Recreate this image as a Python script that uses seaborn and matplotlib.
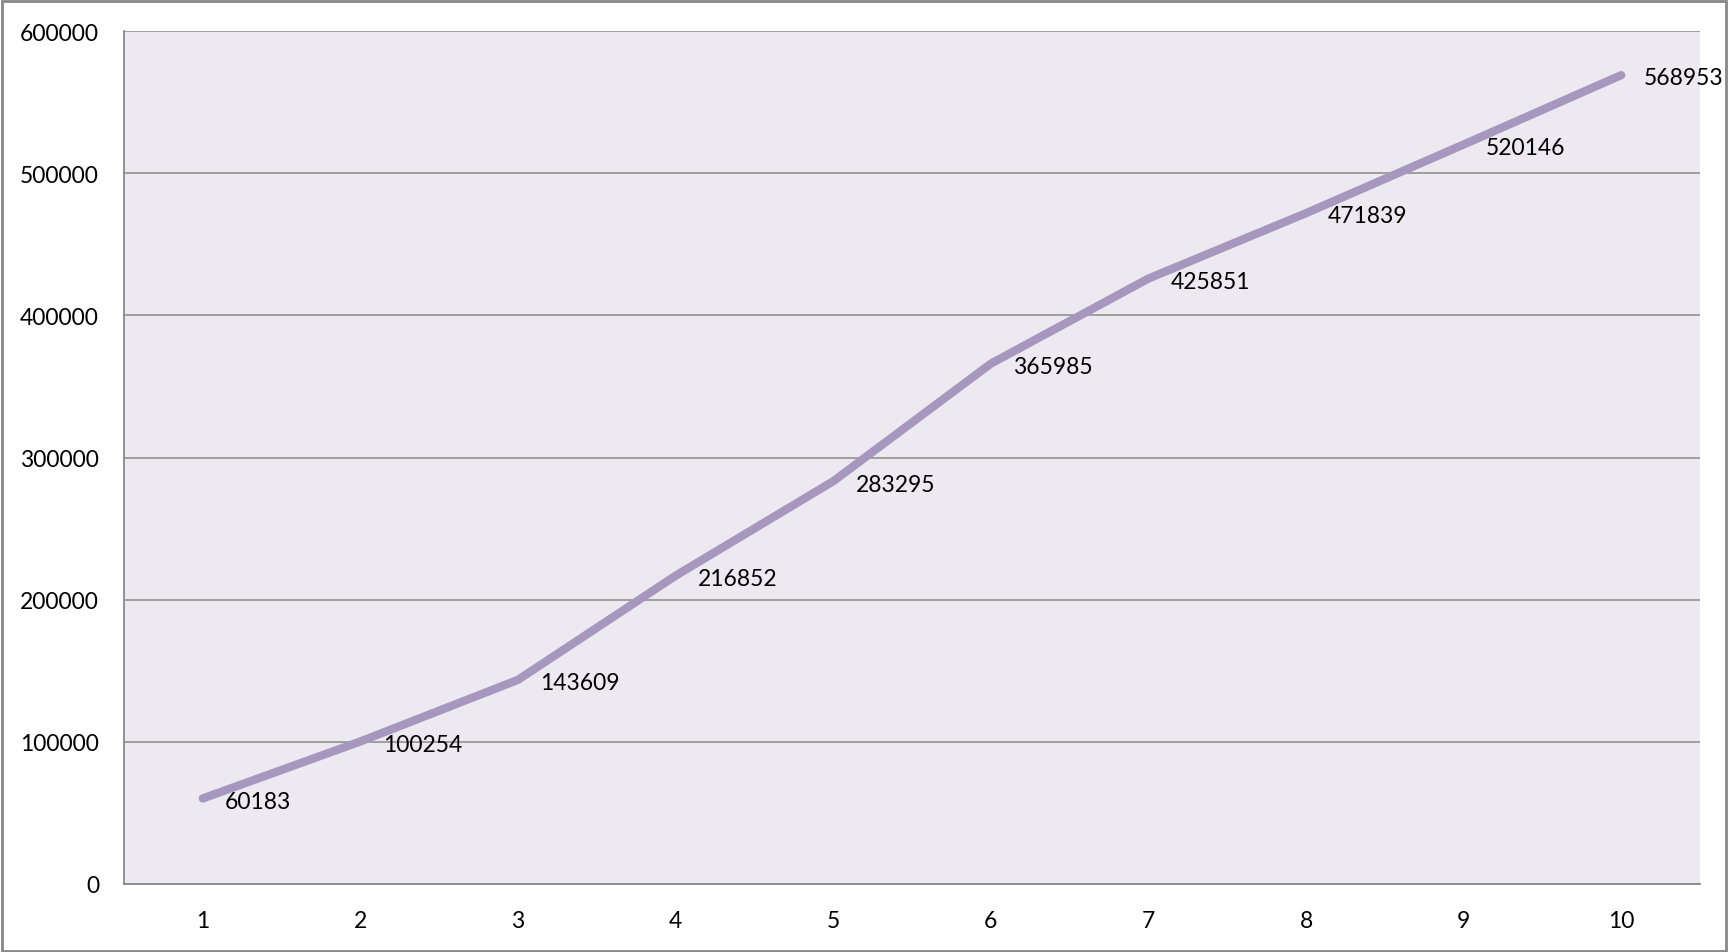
import pandas as pd
import numpy as np
import matplotlib
matplotlib.use("Agg")
import matplotlib.pyplot as plt
import seaborn as sns
from matplotlib.patches import Rectangle

# values
periods = [1, 2, 3, 4, 5, 6, 7, 8, 9, 10]
totals = [60183, 100254, 143609, 216852, 283295, 365985, 425851, 471839, 520146, 568953]
y_ticks = [0, 100000, 200000, 300000, 400000, 500000, 600000]

df = pd.DataFrame({"period": periods, "total": totals})

sns.set_theme(style="darkgrid")
plt.rcParams["font.family"] = ["Lato", "DejaVu Sans"]

line_color = "#A797BF"
grid_color = "#8A8A8A"

fig = plt.figure(figsize=(17.29, 9.53), dpi=100)
ax = fig.add_axes([124 / 1729, 68 / 953, 1576 / 1729, 853 / 953])
ax.set_facecolor("#ECEAF0")

sns.lineplot(data=df, x="period", y="total", ax=ax, color=line_color,
             linewidth=6, solid_capstyle="round", solid_joinstyle="round")

for x, y in zip(periods, totals):
    ax.annotate(str(y), (x, y), xytext=(16, -2), textcoords="offset points",
                ha="left", va="center", fontsize=16.5, color="black")

ax.set_xlim(0.5, 10.5)
ax.set_ylim(0, 600000)
ax.set_xticks(periods)
ax.set_xticklabels([str(p) for p in periods])
ax.set_yticks(y_ticks)
ax.set_yticklabels([str(t) for t in y_ticks])
ax.set_xlabel("")
ax.set_ylabel("")

ax.grid(False)
ax.yaxis.grid(True, color=grid_color, linewidth=1.1)
ax.tick_params(axis="both", length=0, labelsize=16.5, labelcolor="black")
ax.tick_params(axis="y", pad=18)
ax.tick_params(axis="x", pad=19)

for side in ["top", "right"]:
    ax.spines[side].set_visible(False)
for side in ["left", "bottom"]:
    ax.spines[side].set_visible(True)
    ax.spines[side].set_color(grid_color)
    ax.spines[side].set_linewidth(1.3)

# outer chart border
fig.patches.append(Rectangle((0.001, 0.001), 0.997, 0.997, transform=fig.transFigure,
                             fill=False, edgecolor="#888888", linewidth=2))

fig.savefig("out.png", dpi=100, facecolor="white")
